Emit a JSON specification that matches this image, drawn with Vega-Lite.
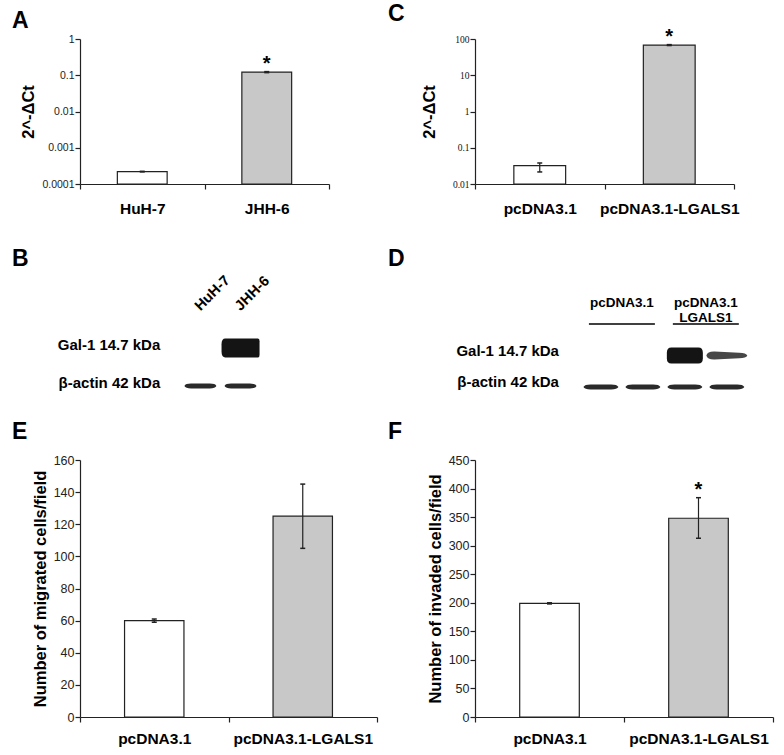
{
  "$schema": "https://vega.github.io/schema/vega-lite/v6.json",
  "padding": {"left": 12, "top": 2, "right": 5, "bottom": 5},
  "columns": 2,
  "bounds": "flush",
  "align": "each",
  "spacing": {"row": 64, "column": 98},
  "concat": [
    {
      "title": {"text": "A", "dx": -68, "offset": 1},
      "width": 249, "height": 145,
      "data": {"values": [
        {"group": "HuH-7", "value": 0.00022, "low": 0.000216, "high": 0.000224, "sig": ""},
        {"group": "JHH-6", "value": 0.122, "low": 0.118, "high": 0.126, "sig": "*"}
      ]},
      "encoding": {"x": {"field": "group", "type": "nominal", "sort": null, "scale": {"paddingInner": 0, "paddingOuter": 0}, "axis": {"title": null, "labelPadding": 12}}},
      "layer": [
        {"mark": {"type": "bar", "width": {"band": 0.4}, "stroke": "#222", "strokeWidth": 1.2},
         "encoding": {
           "y": {"field": "value", "type": "quantitative", "scale": {"type": "log", "domain": [0.0001, 1]},
                 "axis": {"title": "2^-ΔCt", "values": [0.0001, 0.001, 0.01, 0.1, 1], "format": "~g", "labelFontSize": 10.5, "labelOverlap": false}},
           "y2": {"datum": 0.0001},
           "fill": {"field": "group", "type": "nominal", "scale": {"domain": ["HuH-7", "JHH-6", "pcDNA3.1", "pcDNA3.1-LGALS1"], "range": ["#ffffff", "#c8c8c8", "#ffffff", "#c8c8c8"]}, "legend": null}}},
        {"mark": {"type": "rule", "stroke": "#222", "strokeWidth": 1.2}, "encoding": {"y": {"field": "low", "type": "quantitative"}, "y2": {"field": "high"}}},
        {"mark": {"type": "tick", "size": 5, "thickness": 1.5, "color": "#222", "opacity": 1}, "encoding": {"y": {"field": "low", "type": "quantitative"}}},
        {"mark": {"type": "tick", "size": 5, "thickness": 1.5, "color": "#222", "opacity": 1}, "encoding": {"y": {"field": "high", "type": "quantitative"}}},
        {"mark": {"type": "text", "baseline": "alphabetic", "dy": -2, "fontSize": 20, "fontWeight": "bold", "color": "#000"}, "encoding": {"y": {"field": "high", "type": "quantitative"}, "text": {"field": "sig"}}}
      ]
    },
    {
      "title": {"text": "C", "dx": -87, "offset": 1},
      "width": 259, "height": 145,
      "data": {"values": [
        {"group": "pcDNA3.1", "value": 0.032, "low": 0.0215, "high": 0.038, "sig": ""},
        {"group": "pcDNA3.1-LGALS1", "value": 68, "low": 66, "high": 70, "sig": "*"}
      ]},
      "encoding": {"x": {"field": "group", "type": "nominal", "sort": null, "scale": {"paddingInner": 0, "paddingOuter": 0}, "axis": {"title": null, "labelPadding": 12}}},
      "layer": [
        {"mark": {"type": "bar", "width": {"band": 0.4}, "stroke": "#222", "strokeWidth": 1.2},
         "encoding": {
           "y": {"field": "value", "type": "quantitative", "scale": {"type": "log", "domain": [0.01, 100]},
                 "axis": {"title": "2^-ΔCt", "values": [0.01, 0.1, 1, 10, 100], "format": "~g", "labelFont": "Liberation Serif", "labelFontSize": 9.5, "labelColor": "#111", "titlePadding": 15, "labelOverlap": false}},
           "y2": {"datum": 0.01},
           "fill": {"field": "group", "type": "nominal", "scale": {"domain": ["HuH-7", "JHH-6", "pcDNA3.1", "pcDNA3.1-LGALS1"], "range": ["#ffffff", "#c8c8c8", "#ffffff", "#c8c8c8"]}, "legend": null}}},
        {"mark": {"type": "rule", "stroke": "#222", "strokeWidth": 1.2}, "encoding": {"y": {"field": "low", "type": "quantitative"}, "y2": {"field": "high"}}},
        {"mark": {"type": "tick", "size": 5, "thickness": 1.5, "color": "#222", "opacity": 1}, "encoding": {"y": {"field": "low", "type": "quantitative"}}},
        {"mark": {"type": "tick", "size": 5, "thickness": 1.5, "color": "#222", "opacity": 1}, "encoding": {"y": {"field": "high", "type": "quantitative"}}},
        {"mark": {"type": "text", "baseline": "alphabetic", "dy": -2, "fontSize": 20, "fontWeight": "bold", "color": "#000"}, "encoding": {"y": {"field": "high", "type": "quantitative"}, "text": {"field": "sig"}}}
      ]
    },
    {
      "title": {"text": "B", "dx": -68, "offset": -23},
      "width": 297, "height": 148,
      "encoding": {
        "x": {"field": "lane", "type": "quantitative", "scale": {"domain": [-2, 5.4]}, "axis": null},
        "y": {"field": "row", "type": "nominal", "scale": {"type": "point", "padding": 0, "domain": ["header", "Gal-1", "β-actin"], "range": [62, 138]}, "axis": null}
      },
      "layer": [
        {"data": {"values": [
          {"lane": 1, "row": "Gal-1", "intensity": 0},
          {"lane": 2, "row": "Gal-1", "intensity": 1},
          {"lane": 1, "row": "β-actin", "intensity": 0.8},
          {"lane": 2, "row": "β-actin", "intensity": 0.8}
        ]},
         "layer": [
          {"transform": [{"filter": "datum.row === 'Gal-1' && datum.intensity > 0.7"}],
           "mark": {"type": "point", "filled": true, "fill": "#141414", "strokeWidth": 0, "opacity": 1, "size": 1444,
                    "shape": "M-0.8,-0.5 L0.92,-0.5 Q1,-0.5 1,-0.35 L1,0.35 Q1,0.5 0.92,0.5 L-0.8,0.5 Q-1,0.5 -1,0.2 L-1,-0.2 Q-1,-0.5 -0.8,-0.5 Z"}},
          {"transform": [{"filter": "datum.row === 'β-actin' && datum.intensity > 0"}],
           "mark": {"type": "point", "filled": true, "fill": "#2a2a2a", "strokeWidth": 0, "opacity": 1, "size": 1024,
                    "shape": "M-1,0 Q-0.92,-0.17 -0.5,-0.15 L0.5,-0.15 Q0.92,-0.17 1,0 Q0.92,0.17 0.5,0.15 L-0.5,0.15 Q-0.92,0.17 -1,0 Z"}}
         ]},
        {"data": {"values": [
          {"lane": 1, "row": "header", "sample": "HuH-7"},
          {"lane": 2, "row": "header", "sample": "JHH-6"}
        ]},
         "mark": {"type": "text", "angle": 315, "align": "left", "baseline": "middle", "dx": -1, "dy": -3, "fontSize": 14.5, "fontWeight": "bold", "color": "#000"},
         "encoding": {"text": {"field": "sample"}}},
        {"data": {"values": [
          {"lane": 0, "row": "Gal-1", "label": "Gal-1 14.7 kDa"},
          {"lane": 0, "row": "β-actin", "label": "β-actin 42 kDa"}
        ]},
         "mark": {"type": "text", "align": "right", "baseline": "middle", "dy": -3, "fontSize": 15, "fontWeight": "bold", "color": "#000"},
         "encoding": {"text": {"field": "label"}}}
      ]
    },
    {
      "title": {"text": "D", "dx": -87, "offset": -23},
      "width": 298, "height": 148,
      "encoding": {
        "x": {"field": "lane", "type": "quantitative", "scale": {"domain": [-2, 5.1]}, "axis": null},
        "y": {"field": "row", "type": "nominal", "scale": {"type": "point", "padding": 0, "domain": ["header", "Gal-1", "β-actin"], "range": [76, 139]}, "axis": null}
      },
      "layer": [
        {"data": {"values": [
          {"lane": 1, "row": "Gal-1", "intensity": 0},
          {"lane": 2, "row": "Gal-1", "intensity": 0},
          {"lane": 3, "row": "Gal-1", "intensity": 1},
          {"lane": 4, "row": "Gal-1", "intensity": 0.55},
          {"lane": 1, "row": "β-actin", "intensity": 0.8},
          {"lane": 2, "row": "β-actin", "intensity": 0.8},
          {"lane": 3, "row": "β-actin", "intensity": 0.85},
          {"lane": 4, "row": "β-actin", "intensity": 0.8}
        ]},
         "layer": [
          {"transform": [{"filter": "datum.row === 'Gal-1' && datum.intensity > 0.7"}],
           "mark": {"type": "point", "filled": true, "fill": "#141414", "strokeWidth": 0, "opacity": 1, "size": 1296,
                    "shape": "M-0.75,-0.44 L0.75,-0.44 Q1,-0.44 1,-0.15 L1,0.15 Q1,0.44 0.75,0.44 L-0.75,0.44 Q-1,0.44 -1,0.15 L-1,-0.15 Q-1,-0.44 -0.75,-0.44 Z"}},
          {"transform": [{"filter": "datum.row === 'Gal-1' && datum.intensity > 0 && datum.intensity <= 0.7"}],
           "mark": {"type": "point", "filled": true, "fill": "#333333", "strokeWidth": 0, "opacity": 0.9, "size": 1681,
                    "shape": "M-1,0 Q-0.95,-0.2 -0.6,-0.19 L0.6,-0.14 Q0.95,-0.13 1,0 Q0.95,0.13 0.6,0.14 L-0.6,0.19 Q-0.95,0.2 -1,0 Z"}},
          {"transform": [{"filter": "datum.row === 'β-actin' && datum.intensity > 0"}],
           "mark": {"type": "point", "filled": true, "fill": "#2a2a2a", "strokeWidth": 0, "opacity": 1, "size": 1225,
                    "shape": "M-1,0 Q-0.92,-0.16 -0.5,-0.14 L0.5,-0.14 Q0.92,-0.16 1,0 Q0.92,0.16 0.5,0.14 L-0.5,0.14 Q-0.92,0.16 -1,0 Z"}}
         ]},
        {"data": {"values": [
          {"first": 1, "last": 2, "row": "header"},
          {"first": 3, "last": 4, "row": "header"}
        ]},
         "mark": {"type": "rule", "stroke": "#000", "strokeWidth": 1.3, "xOffset": -12, "x2Offset": 12},
         "encoding": {"x": {"field": "first", "type": "quantitative"}, "x2": {"field": "last"}}},
        {"data": {"values": [
          {"lane": 1.5, "row": "header", "label": ["pcDNA3.1"]},
          {"lane": 3.5, "row": "header", "label": ["pcDNA3.1", "LGALS1"]}
        ]},
         "mark": {"type": "text", "align": "center", "baseline": "middle", "dy": -21, "lineHeight": 15, "fontSize": 13.5, "fontWeight": "bold", "color": "#000"},
         "encoding": {"text": {"field": "label"}}},
        {"data": {"values": [
          {"lane": 0, "row": "Gal-1", "label": "Gal-1 14.7 kDa"},
          {"lane": 0, "row": "β-actin", "label": "β-actin 42 kDa"}
        ]},
         "mark": {"type": "text", "align": "right", "baseline": "middle", "dy": -5, "fontSize": 15, "fontWeight": "bold", "color": "#000"},
         "encoding": {"text": {"field": "label"}}}
      ]
    },
    {
      "title": {"text": "E", "dx": -68, "offset": 10},
      "width": 297, "height": 257,
      "data": {"values": [
        {"group": "pcDNA3.1", "value": 60, "low": 59, "high": 61, "sig": ""},
        {"group": "pcDNA3.1-LGALS1", "value": 125, "low": 105, "high": 145, "sig": ""}
      ]},
      "encoding": {"x": {"field": "group", "type": "nominal", "sort": null, "scale": {"paddingInner": 0, "paddingOuter": 0}, "axis": {"title": null, "labelPadding": 9}}},
      "layer": [
        {"mark": {"type": "bar", "width": {"band": 0.4}, "stroke": "#222", "strokeWidth": 1.2},
         "encoding": {
           "y": {"field": "value", "type": "quantitative", "scale": {"domain": [0, 160], "nice": false},
                 "axis": {"title": "Number of migrated cells/field", "values": [0, 20, 40, 60, 80, 100, 120, 140, 160], "labelOverlap": false, "labelFontSize": 12.5}},
           "fill": {"field": "group", "type": "nominal", "scale": {"domain": ["HuH-7", "JHH-6", "pcDNA3.1", "pcDNA3.1-LGALS1"], "range": ["#ffffff", "#c8c8c8", "#ffffff", "#c8c8c8"]}, "legend": null}}},
        {"mark": {"type": "rule", "stroke": "#222", "strokeWidth": 1.2}, "encoding": {"y": {"field": "low", "type": "quantitative", "axis": {"title": "Number of migrated cells/field", "values": [0, 20, 40, 60, 80, 100, 120, 140, 160], "labelOverlap": false, "labelFontSize": 12.5}}, "y2": {"field": "high"}}},
        {"mark": {"type": "tick", "size": 5, "thickness": 1.5, "color": "#222", "opacity": 1}, "encoding": {"y": {"field": "low", "type": "quantitative", "axis": {"title": "Number of migrated cells/field", "values": [0, 20, 40, 60, 80, 100, 120, 140, 160], "labelOverlap": false, "labelFontSize": 12.5}}}},
        {"mark": {"type": "tick", "size": 5, "thickness": 1.5, "color": "#222", "opacity": 1}, "encoding": {"y": {"field": "high", "type": "quantitative", "axis": {"title": "Number of migrated cells/field", "values": [0, 20, 40, 60, 80, 100, 120, 140, 160], "labelOverlap": false, "labelFontSize": 12.5}}}},
        {"mark": {"type": "text", "baseline": "alphabetic", "dy": -2, "fontSize": 20, "fontWeight": "bold", "color": "#000"}, "encoding": {"y": {"field": "high", "type": "quantitative", "axis": {"title": "Number of migrated cells/field", "values": [0, 20, 40, 60, 80, 100, 120, 140, 160], "labelOverlap": false, "labelFontSize": 12.5}}, "text": {"field": "sig"}}}
      ]
    },
    {
      "title": {"text": "F", "dx": -87, "offset": 10},
      "width": 298, "height": 257,
      "data": {"values": [
        {"group": "pcDNA3.1", "value": 199, "low": 198, "high": 200, "sig": ""},
        {"group": "pcDNA3.1-LGALS1", "value": 348, "low": 313, "high": 384, "sig": "*"}
      ]},
      "encoding": {"x": {"field": "group", "type": "nominal", "sort": null, "scale": {"paddingInner": 0, "paddingOuter": 0}, "axis": {"title": null, "labelPadding": 9}}},
      "layer": [
        {"mark": {"type": "bar", "width": {"band": 0.4}, "stroke": "#222", "strokeWidth": 1.2},
         "encoding": {
           "y": {"field": "value", "type": "quantitative", "scale": {"domain": [0, 450], "nice": false},
                 "axis": {"title": "Number of invaded cells/field", "values": [0, 50, 100, 150, 200, 250, 300, 350, 400, 450], "labelOverlap": false, "labelFontSize": 12.5}},
           "fill": {"field": "group", "type": "nominal", "scale": {"domain": ["HuH-7", "JHH-6", "pcDNA3.1", "pcDNA3.1-LGALS1"], "range": ["#ffffff", "#c8c8c8", "#ffffff", "#c8c8c8"]}, "legend": null}}},
        {"mark": {"type": "rule", "stroke": "#222", "strokeWidth": 1.2}, "encoding": {"y": {"field": "low", "type": "quantitative", "axis": {"title": "Number of invaded cells/field", "values": [0, 50, 100, 150, 200, 250, 300, 350, 400, 450], "labelOverlap": false, "labelFontSize": 12.5}}, "y2": {"field": "high"}}},
        {"mark": {"type": "tick", "size": 5, "thickness": 1.5, "color": "#222", "opacity": 1}, "encoding": {"y": {"field": "low", "type": "quantitative", "axis": {"title": "Number of invaded cells/field", "values": [0, 50, 100, 150, 200, 250, 300, 350, 400, 450], "labelOverlap": false, "labelFontSize": 12.5}}}},
        {"mark": {"type": "tick", "size": 5, "thickness": 1.5, "color": "#222", "opacity": 1}, "encoding": {"y": {"field": "high", "type": "quantitative", "axis": {"title": "Number of invaded cells/field", "values": [0, 50, 100, 150, 200, 250, 300, 350, 400, 450], "labelOverlap": false, "labelFontSize": 12.5}}}},
        {"mark": {"type": "text", "baseline": "alphabetic", "dy": -2, "fontSize": 20, "fontWeight": "bold", "color": "#000"}, "encoding": {"y": {"field": "high", "type": "quantitative", "axis": {"title": "Number of invaded cells/field", "values": [0, 50, 100, 150, 200, 250, 300, 350, 400, 450], "labelOverlap": false, "labelFontSize": 12.5}}, "text": {"field": "sig"}}}
      ]
    }
  ],
  "config": {
    "view": {"stroke": null},
    "font": "Liberation Sans",
    "title": {"anchor": "start", "frame": "group", "fontSize": 23, "fontWeight": "bold", "baseline": "alphabetic", "color": "#000", "font": "Liberation Sans"},
    "axis": {"grid": false, "labelOverlap": false, "domainColor": "#222", "tickColor": "#222", "labelColor": "#222", "titleColor": "#000", "labelFont": "Liberation Sans", "titleFont": "Liberation Sans", "titleFontWeight": "bold", "titleFontSize": 16.5, "tickSize": 5, "domainWidth": 1.2, "tickWidth": 1.2},
    "axisX": {"labelAngle": 0, "labelFontSize": 15.5, "labelFontWeight": "bold", "labelColor": "#000", "tickBand": "extent"},
    "axisY": {"labelPadding": 1, "titlePadding": 5}
  }
}
